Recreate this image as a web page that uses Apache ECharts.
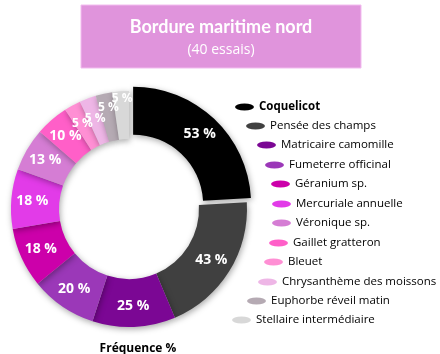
<!DOCTYPE html>
<html lang="fr">
<head>
<meta charset="utf-8">
<script src="https://cdn.jsdelivr.net/npm/echarts@6/dist/echarts.min.js"></script>
<style>
  html, body { margin: 0; padding: 0; background: #fff; }
  #main { width: 440px; height: 354px; }
</style>
</head>
<body>
<div id="main"></div>
<script>
// espèces et fréquences (% des 40 essais)
var especes = ['Coquelicot', 'Pensée des champs', 'Matricaire camomille', 'Fumeterre officinal',
  'Géranium sp.', 'Mercuriale annuelle', 'Véronique sp.', 'Gaillet gratteron', 'Bleuet',
  'Chrysanthème des moissons', 'Euphorbe réveil matin', 'Stellaire intermédiaire'];
var frequences = [53, 43, 25, 20, 18, 18, 13, 10, 5, 5, 5, 5];
var couleurs = ['#000000', '#404040', '#7b0794', '#9b38b8', '#cc00aa', '#e23be8',
  '#d57dd4', '#ff5fc8', '#ff8fd4', '#eeb6e6', '#b5aab3', '#d8d8d8'];

// position de chaque entrée de légende (disposée en arc)
var legendeX = [235, 246, 257, 265, 271, 272, 272, 269, 264, 258, 247, 232];
var legendeY = [106, 125, 144, 164, 183, 203, 222, 242, 261, 281, 300, 319];

var police = '"Open Sans", "Noto Sans", sans-serif';
var ellipse = 'path://M0,3.5 A9.5,3.5 0 1,1 19,3.5 A9.5,3.5 0 1,1 0,3.5 Z';

var legendes = [];
for (var i = 0; i < especes.length; i++) {
  legendes.push({
    data: [especes[i]],
    left: legendeX[i],
    top: legendeY[i] - 5,
    orient: 'vertical',
    padding: 0,
    icon: ellipse,
    itemWidth: 19,
    itemHeight: 7,
    selectedMode: false,
    textStyle: {
      fontFamily: police,
      fontSize: 11.5,
      color: '#000',
      fontWeight: i === 0 ? 'bold' : 'normal'
    }
  });
}

// lignes vides ajoutées sous les petites étiquettes pour les remonter
var lignesVides = [0, 0, 0, 0, 0, 0, 0, 0, 0, 0, 1, 2];

var donnees = [];
for (var j = 0; j < especes.length; j++) {
  var d = {
    name: especes[j],
    value: frequences[j],
    selected: j === 0,
    itemStyle: { color: couleurs[j] }
  };
  if (frequences[j] <= 5) {
    var f = '{c} %';
    for (var k = 0; k < lignesVides[j]; k++) f += '\n ';
    d.label = { fontSize: 12, lineHeight: 14, formatter: f };
  }
  donnees.push(d);
}

var myChart = echarts.init(document.getElementById('main'));
myChart.setOption({
  animation: false,
  graphic: [{
    type: 'rect',
    shape: { x: 81, y: 5, width: 280, height: 63 },
    style: { fill: '#e094dc', stroke: '#f2bcef', lineWidth: 1 }
  }],
  title: [{
    text: 'Bordure maritime nord',
    subtext: '(40 essais)',
    left: 216,
    top: 13,
    textAlign: 'center',
    itemGap: 7,
    textStyle: { fontFamily: 'Lato, sans-serif', fontSize: 18, fontWeight: 'bold', color: '#fff' },
    subtextStyle: { fontFamily: police, fontSize: 14, color: '#fff' }
  }, {
    text: 'Fréquence %',
    left: 133,
    top: 338,
    textAlign: 'center',
    textStyle: { fontFamily: police, fontSize: 12, fontWeight: 'bold', color: '#000' }
  }],
  legend: legendes,
  series: [{
    type: 'pie',
    center: [129, 209],
    radius: [70, 118],
    startAngle: 90,
    clockwise: true,
    selectedMode: 'single',
    selectedOffset: 6,
    avoidLabelOverlap: false,
    labelLayout: { hideOverlap: false },
    itemStyle: {
      borderWidth: 0,
      shadowBlur: 6,
      shadowColor: 'rgba(0,0,0,0.35)',
      shadowOffsetX: 1,
      shadowOffsetY: 2
    },
    label: {
      show: true,
      position: 'inside',
      formatter: '{c} %',
      fontFamily: police,
      fontSize: 14,
      fontWeight: 'bold',
      color: '#fff'
    },
    labelLine: { show: false },
    emphasis: { disabled: true },
    data: donnees
  }]
});
</script>
</body>
</html>
